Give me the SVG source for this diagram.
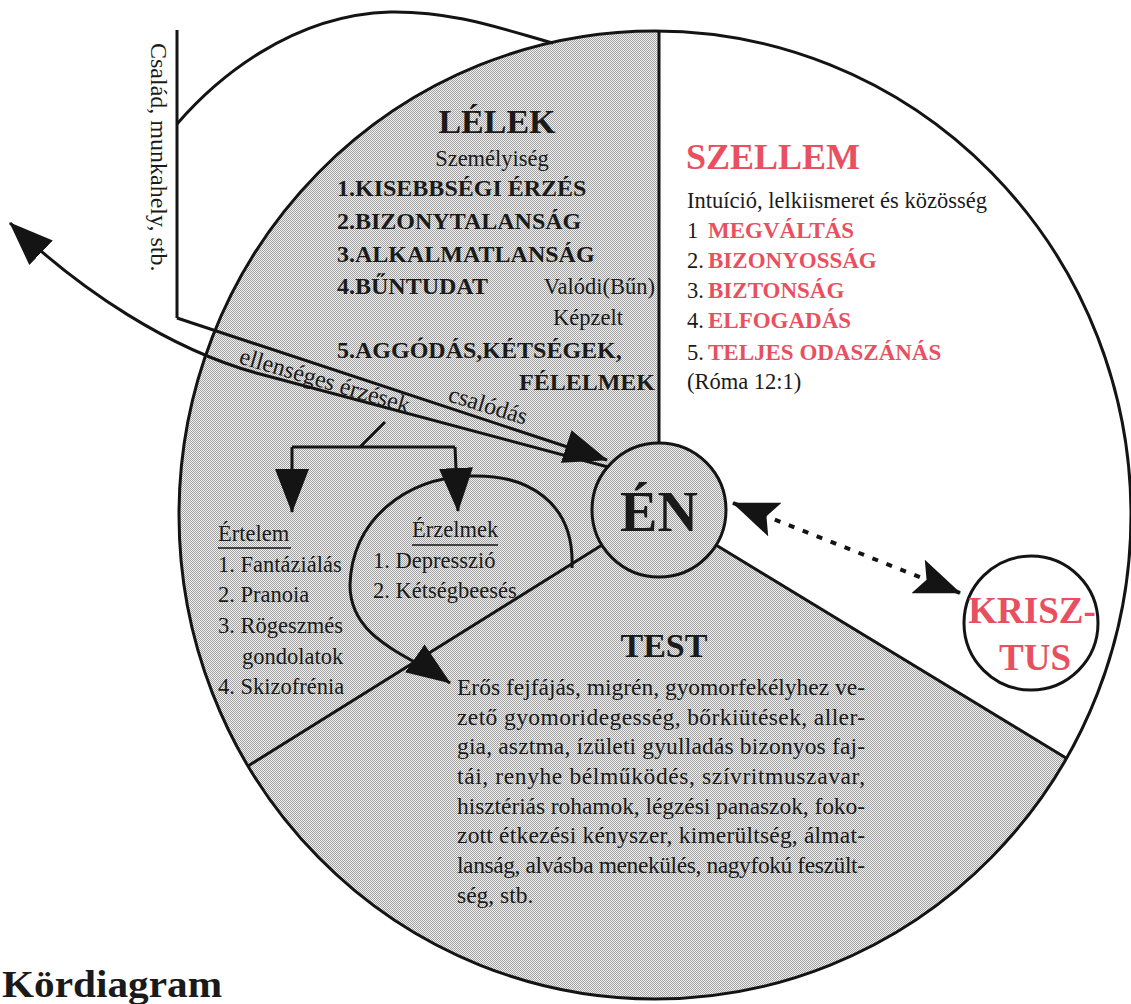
<svg xmlns="http://www.w3.org/2000/svg" width="1131" height="1004" viewBox="0 0 1131 1004">
<defs>
<pattern id="stip" width="2" height="2" patternUnits="userSpaceOnUse"><rect width="2" height="2" fill="#f0f0f0"/><rect width="1" height="1" fill="#a2a2a2"/><rect x="1" y="1" width="1" height="1" fill="#a2a2a2"/></pattern>
<marker id="ah" markerUnits="userSpaceOnUse" viewBox="0 0 44 34" refX="43" refY="17" markerWidth="44" markerHeight="34" orient="auto-start-reverse"><path d="M0,0 L44,17 L0,34 Z" fill="#141414"/></marker>
<marker id="ahn" markerUnits="userSpaceOnUse" viewBox="0 0 46 36" refX="45" refY="18" markerWidth="46" markerHeight="36" orient="auto-start-reverse"><path d="M0,0 L46,18 L0,36 L9,18 Z" fill="#141414"/></marker>
<style>
text{font-family:"Liberation Serif","Times New Roman",serif;fill:#1a1a1a}
.b{font-weight:bold}
.r{fill:#e8505f}
.ln{fill:none;stroke:#141414;stroke-width:3}
.reg{font-size:22.5px}
.lst{font-size:24px;font-weight:bold}
.red{font-size:23px;font-weight:bold;fill:#e8505f}
.body{font-size:23.5px}
</style>
</defs>

<g id="diagram-circle">
<ellipse cx="655" cy="515" rx="476" ry="484" fill="url(#stip)"/>
<path d="M659,31 A476,484 0 0 1 1066,758 L716,545 A67,67 0 0 0 659,443 Z" fill="#ffffff"/>
<ellipse cx="655" cy="515" rx="476" ry="484" class="ln"/>
<path d="M659,31 L659,443 M602,545 L248,766 M716,545 L1066,758" class="ln"/>
</g>

<g id="csalad">
<path d="M177,30 L177,318" class="ln"/>
<path d="M177,124 C215,80 290,15 390,12 C455,11 505,30 553,43" class="ln"/>
<text transform="translate(151,43) rotate(90)" font-size="24">Család, munkahely, stb.</text>
</g>

<g id="lelek">
<text x="497" y="133" class="b" font-size="34" text-anchor="middle">LÉLEK</text>
<text x="492" y="166" class="reg" text-anchor="middle">Személyiség</text>
<text x="337" y="196" class="lst">1.KISEBBSÉGI ÉRZÉS</text>
<text x="337" y="229" class="lst">2.BIZONYTALANSÁG</text>
<text x="337" y="262" class="lst">3.ALKALMATLANSÁG</text>
<text x="337" y="294" class="lst">4.BŰNTUDAT</text>
<text x="655" y="294" class="reg" text-anchor="end">Valódi(Bűn)</text>
<text x="588" y="325" class="reg" text-anchor="middle">Képzelt</text>
<text x="337" y="358" class="lst">5.AGGÓDÁS,KÉTSÉGEK,</text>
<text x="655" y="390" class="lst" text-anchor="end">FÉLELMEK</text>
</g>

<g id="szellem">
<text x="686" y="169" class="b r" font-size="36">SZELLEM</text>
<text x="687" y="208" class="reg">Intuíció, lelkiismeret és közösség</text>
<text x="687" y="238" class="reg">1</text><text x="708" y="238" class="red">MEGVÁLTÁS</text>
<text x="687" y="268" class="reg">2.</text><text x="708" y="268" class="red">BIZONYOSSÁG</text>
<text x="687" y="298" class="reg">3.</text><text x="708" y="298" class="red">BIZTONSÁG</text>
<text x="687" y="328" class="reg">4.</text><text x="708" y="328" class="red">ELFOGADÁS</text>
<text x="687" y="360" class="reg">5.</text><text x="708" y="360" class="red">TELJES ODASZÁNÁS</text>
<text x="687" y="389" class="reg">(Róma 12:1)</text>
</g>

<g id="en">
<circle cx="659" cy="510" r="67" fill="url(#stip)" stroke="#141414" stroke-width="3"/>
<text x="659" y="531" class="b" font-size="56" text-anchor="middle">ÉN</text>
</g>

<g id="krisztus">
<circle cx="1031" cy="623" r="67" fill="#ffffff" stroke="#141414" stroke-width="3"/>
<text x="1032" y="623" class="b r" font-size="37" text-anchor="middle">KRISZ-</text>
<text x="1035" y="670" class="b r" font-size="37" text-anchor="middle">TUS</text>
</g>

<g id="ertelem">
<text x="218" y="541" class="reg">Értelem</text>
<path d="M218,548 L291,548" stroke="#141414" stroke-width="1.5"/>
<text x="218" y="572" class="reg">1. Fantáziálás</text>
<text x="218" y="602" class="reg">2. Pranoia</text>
<text x="218" y="633" class="reg">3. Rögeszmés</text>
<text x="242" y="664" class="reg">gondolatok</text>
<text x="218" y="694" class="reg">4. Skizofrénia</text>
</g>

<g id="erzelmek">
<text x="412" y="537" class="reg">Érzelmek</text>
<path d="M412,545 L498,545" stroke="#141414" stroke-width="1.5"/>
<text x="373" y="568" class="reg">1. Depresszió</text>
<text x="373" y="598" class="reg">2. Kétségbeesés</text>
</g>

<g id="test">
<text x="664" y="657" class="b" font-size="34" text-anchor="middle">TEST</text>
<text x="457" y="695" class="body" textLength="408" lengthAdjust="spacing">Erős fejfájás, migrén, gyomorfekélyhez ve-</text>
<text x="457" y="725" class="body" textLength="408" lengthAdjust="spacing">zető gyomoridegesség, bőrkiütések, aller-</text>
<text x="457" y="754" class="body" textLength="408" lengthAdjust="spacing">gia, asztma, ízületi gyulladás bizonyos faj-</text>
<text x="457" y="784" class="body" textLength="408" lengthAdjust="spacing">tái, renyhe bélműködés, szívritmuszavar,</text>
<text x="457" y="814" class="body" textLength="408" lengthAdjust="spacing">hisztériás rohamok, légzési panaszok, foko-</text>
<text x="457" y="843" class="body" textLength="408" lengthAdjust="spacing">zott étkezési kényszer, kimerültség, álmat-</text>
<text x="457" y="873" class="body" textLength="408" lengthAdjust="spacing">lanság, alvásba menekülés, nagyfokú feszült-</text>
<text x="457" y="903" class="body">ség, stb.</text>
</g>

<g id="title">
<text x="2" y="997" class="b" font-size="38" textLength="220" lengthAdjust="spacingAndGlyphs">Kördiagram</text>
</g>

<g id="connectors">
<path d="M177,318 L607,460" class="ln" marker-end="url(#ah)"/>
<path d="M608,467 L260,374 C170,350 80,290 10,223" class="ln" marker-end="url(#ah)"/>
<text transform="translate(238,363) rotate(16.5)" font-size="24">ellenséges érzések</text>
<text transform="translate(447,401) rotate(17)" font-size="24">csalódás</text>
<path d="M385,422 L360,447 M292,447 L455,447" class="ln"/>
<path d="M292,447 L292,512" class="ln" marker-end="url(#ah)"/>
<path d="M455,447 L458,511" class="ln" marker-end="url(#ah)"/>
<path d="M572,568 C575,500 525,474 470,476 C405,478 352,520 350,585 C350,640 410,655 450,683" class="ln" marker-end="url(#ah)"/>
<path d="M733,503 L960,593" fill="none" stroke="#141414" stroke-width="4" stroke-dasharray="6 9" marker-start="url(#ahn)" marker-end="url(#ahn)"/>
</g>
</svg>
